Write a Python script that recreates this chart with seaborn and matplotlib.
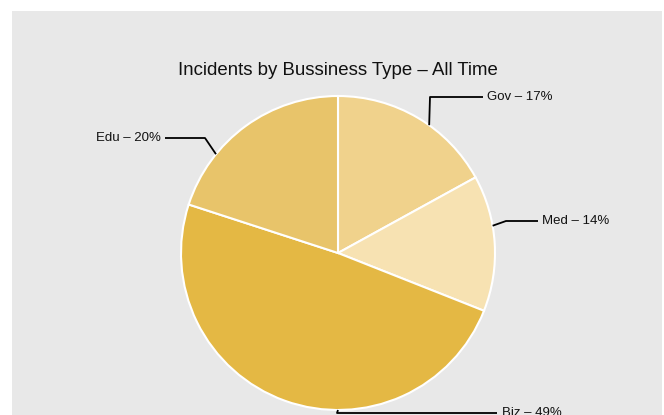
import matplotlib
matplotlib.use("Agg")
import matplotlib.pyplot as plt
import seaborn as sns
import numpy as np

categories = ["Gov", "Med", "Biz", "Edu"]
shares = [17, 14, 49, 20]
colors = ["#f0d28c", "#f7e2b2", "#e4b844", "#e8c46a"]
title = "Incidents by Bussiness Type – All Time"

sns.set_style("white")
plt.rcParams["font.family"] = ["Liberation Sans", "DejaVu Sans"]

W, H = 664, 415
fig = plt.figure(figsize=(W / 100, H / 100), dpi=100)
fig.patch.set_facecolor("white")

# gray panel in pixel coords (y up)
px_l, px_r, px_t = 12, 662, 11
ax = fig.add_axes([px_l / W, 0, (px_r - px_l) / W, (H - px_t) / H])
ax.set_facecolor("#e8e8e8")
for s in ax.spines.values():
    s.set_visible(False)

cx, cy, r = 338, H - 253, 157
wedges, _ = ax.pie(shares, colors=colors, startangle=90, counterclock=False,
                   center=(cx, cy), radius=r, frame=True,
                   wedgeprops=dict(edgecolor="white", linewidth=1.5))
ax.set_xlim(px_l, px_r)
ax.set_ylim(0, H - px_t)
ax.set_aspect("equal", adjustable="box")
ax.set_xticks([])
ax.set_yticks([])

ax.text(cx, H - 70, title, ha="center", va="center", fontsize=13.4, color="#111111")

# connector layout: anchor angle on rim, path points (pixel coords y-down), text pos
layout = {
    "Gov": dict(ang=54.5, pts=[(430, 97), (483, 97)], txt=(487, 97), ha="left"),
    "Med": dict(ang=10.0, pts=[(506, 221), (538, 221)], txt=(542, 221), ha="left"),
    "Biz": dict(ang=-90.0, pts=[(337, 413), (497, 413)], txt=(502, 413), ha="left"),
    "Edu": dict(ang=141.0, pts=[(205, 138), (165, 138)], txt=(161, 138), ha="right"),
}
for cat, val in zip(categories, shares):
    L = layout[cat]
    a = np.deg2rad(L["ang"])
    xs = [cx + r * np.cos(a)] + [p[0] for p in L["pts"]]
    ys = [cy + r * np.sin(a)] + [H - p[1] for p in L["pts"]]
    ax.plot(xs, ys, color="black", lw=1.3, solid_capstyle="butt", clip_on=False)
    ax.text(L["txt"][0], H - L["txt"][1], f"{cat} – {val}%", ha=L["ha"],
            va="center", fontsize=9.5, color="#111111")

fig.savefig("out.png", dpi=100, facecolor="white")
